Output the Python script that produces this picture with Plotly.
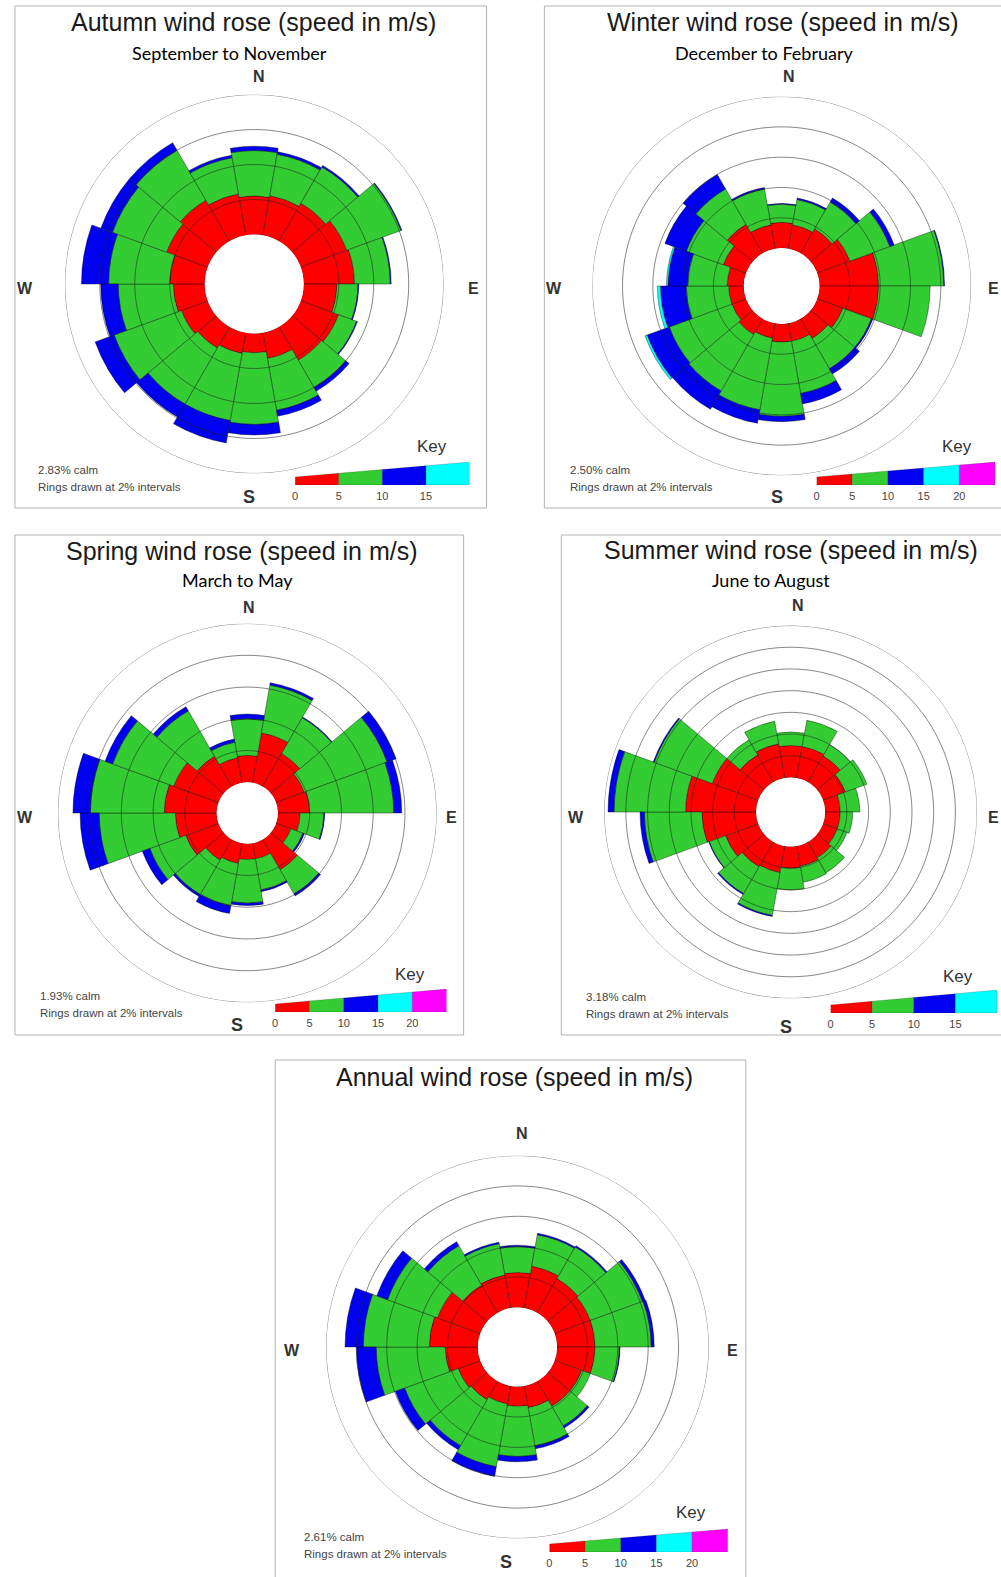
import numpy as np
import plotly.graph_objects as go

W, H = 1001, 1577

# ---------------- data ----------------
directions = [0, 20, 40, 60, 80, 100, 120, 140, 160, 180, 200, 220, 240, 260, 280, 300, 320, 340]
speed_bins = ["0-5", "5-10", "10-15", "15-20", "20+"]
bin_colors = ["#ff0000", "#33cc33", "#0000f0", "#00ffff", "#ff00ff"]
ring_step = 2

# Autumn (September to November), % of time per direction and speed band
autumn_0_5 = [2.2, 2.3, 2.5, 2.8, 2.9, 1.9, 2.3, 2.2, 1.5, 1.1, 1.2, 1.4, 1.6, 1.8, 2.0, 2.5, 2.7, 2.4]
autumn_5_10 = [2.6, 2.4, 2.4, 3.3, 2.05, 1.2, 1.1, 1.8, 3.0, 4.1, 3.9, 3.7, 4.1, 3.15, 3.5, 3.3, 3.3, 2.1]
autumn_10_15 = [0.25, 0.15, 0.1, 0.05, 0.05, 0.05, 0.05, 0.25, 0.35, 0.6, 1.3, 0.85, 1.15, 1.0, 1.55, 0.7, 0.5, 0.15]
autumn_calm = 2.83
autumn_rings = 8
autumn_key_ticks = [0, 5, 10, 15]

# Winter (December to February)
winter_0_5 = [1.7, 1.6, 1.85, 2.3, 3.9, 3.9, 1.8, 1.5, 1.2, 1.2, 1.0, 1.2, 1.0, 1.0, 1.1, 1.6, 2.2, 1.6]
winter_5_10 = [1.2, 1.7, 2.05, 2.8, 4.3, 3.4, 2.0, 2.3, 3.5, 4.9, 4.8, 4.3, 4.4, 2.8, 2.6, 2.6, 2.7, 2.4]
winter_10_15 = [0.05, 0.1, 0.3, 0.3, 0.05, 0.0, 0.1, 0.4, 0.7, 0.35, 0.9, 1.4, 1.55, 1.7, 1.3, 1.5, 1.1, 0.1]
winter_15_20 = [0, 0, 0, 0, 0, 0, 0, 0, 0, 0, 0, 0, 0.15, 0.2, 0.1, 0, 0, 0]
winter_calm = 2.50
winter_rings = 10
winter_key_ticks = [0, 5, 10, 15, 20]

# Spring (March to May)
spring_0_5 = [1.7, 3.2, 2.4, 1.9, 2.0, 1.4, 1.0, 2.2, 1.0, 1.0, 1.3, 1.5, 2.2, 2.6, 3.3, 3.0, 2.2, 1.6]
spring_5_10 = [2.3, 3.05, 2.6, 5.55, 5.3, 1.5, 0.8, 1.75, 2.0, 2.75, 2.7, 2.5, 2.4, 4.8, 4.65, 4.1, 3.3, 1.0]
spring_10_15 = [0.3, 0.15, 0.05, 0.6, 0.5, 0.05, 0.1, 0.15, 0.1, 0.15, 0.5, 0.15, 0.5, 1.2, 1.1, 0.5, 0.3, 0.2]
spring_calm = 1.93
spring_rings = 10
spring_key_ticks = [0, 5, 10, 15, 20]

# Summer (June to August)
summer_0_5 = [2.95, 2.95, 2.8, 2.2, 1.4, 1.4, 1.4, 1.7, 1.9, 2.0, 2.5, 2.65, 3.2, 5.0, 6.5, 4.5, 2.9, 3.2]
summer_5_10 = [1.25, 2.45, 1.2, 2.1, 1.8, 1.15, 0.95, 1.6, 1.5, 2.0, 4.0, 2.85, 1.6, 5.3, 6.6, 5.7, 1.6, 2.1]
summer_10_15 = [0, 0, 0, 0, 0, 0, 0, 0, 0, 0, 0.1, 0.1, 0.05, 0.4, 0.55, 0.1, 0, 0]
summer_calm = 3.18
summer_rings = 14
summer_key_ticks = [0, 5, 10, 15]

# Annual
annual_0_5 = [2.3, 2.8, 2.6, 2.5, 2.5, 2.5, 1.9, 1.9, 1.45, 1.3, 1.2, 1.4, 1.55, 2.15, 3.2, 3.0, 2.1, 2.2]
annual_5_10 = [1.7, 2.1, 2.4, 3.65, 3.7, 1.6, 0.6, 1.5, 2.55, 3.3, 4.2, 3.5, 3.75, 4.55, 4.35, 3.5, 3.0, 2.1]
annual_10_15 = [0.1, 0.1, 0.1, 0.2, 0.2, 0.05, 0.0, 0.15, 0.2, 0.35, 0.65, 0.3, 0.65, 1.3, 1.2, 0.75, 0.3, 0.1]
annual_calm = 2.61
annual_rings = 10
annual_key_ticks = [0, 5, 10, 15, 20]

panels = [
    dict(title="Autumn wind rose (speed in m/s)", sub="September to November",
         series=[autumn_0_5, autumn_5_10, autumn_10_15], calm=autumn_calm,
         rmax=autumn_rings, ticks=autumn_key_ticks),
    dict(title="Winter wind rose (speed in m/s)", sub="December to February",
         series=[winter_0_5, winter_5_10, winter_10_15, winter_15_20], calm=winter_calm,
         rmax=winter_rings, ticks=winter_key_ticks),
    dict(title="Spring wind rose (speed in m/s)", sub="March to May",
         series=[spring_0_5, spring_5_10, spring_10_15], calm=spring_calm,
         rmax=spring_rings, ticks=spring_key_ticks),
    dict(title="Summer wind rose (speed in m/s)", sub="June to August",
         series=[summer_0_5, summer_5_10, summer_10_15], calm=summer_calm,
         rmax=summer_rings, ticks=summer_key_ticks),
    dict(title="Annual wind rose (speed in m/s)", sub=None,
         series=[annual_0_5, annual_5_10, annual_10_15], calm=annual_calm,
         rmax=annual_rings, ticks=annual_key_ticks),
]

# ---------------- layout geometry (pixels) ----------------
geo = [
    dict(c=(252, 284), R=190, box=(12, 6, 485, 508), title=(251, 22), sub=(227, 53),
         N=(257, 77), Wl=(22, 288), E=(472, 288), S=(247, 497), calm=(33, 470),
         key=(293, 468, 485), keyword=(430, 446)),
    dict(c=(781, 286), R=190, box=(543, 6, 1012, 508), title=(782, 22), sub=(763, 53),
         N=(788, 77), Wl=(553, 288), E=(993, 288), S=(776, 497), calm=(567, 470),
         key=(816, 995, 485), keyword=(957, 446)),
    dict(c=(245, 813), R=190, box=(12, 535, 462, 1035), title=(240, 551), sub=(235, 580),
         N=(247, 607), Wl=(22, 817), E=(450, 817), S=(235, 1025), calm=(35, 996),
         key=(273, 445, 1012), keyword=(408, 974)),
    dict(c=(790, 812), R=187, box=(560, 535, 1012, 1035), title=(790, 550), sub=(770, 580),
         N=(797, 605), Wl=(575, 817), E=(993, 817), S=(785, 1027), calm=(583, 997),
         key=(830, 997, 1013), keyword=(958, 976)),
    dict(c=(516, 1347), R=192, box=(273, 1060, 745, 1590), title=(513, 1077), sub=None,
         N=(521, 1133), Wl=(290, 1350), E=(732, 1350), S=(505, 1562), calm=(300, 1537),
         key=(548, 727, 1552), keyword=(690, 1512)),
]


def px(x):
    return x / W


def py(y):
    return 1 - y / H


fig = go.Figure()
annotations = []
shapes = []
layout_extra = {}

ARIAL = "Liberation Sans, Arial, sans-serif"
TITLE_FONT = dict(family=ARIAL, size=25, color="#1a1a1a")
SUB_FONT = dict(family="Lato, Noto Sans, sans-serif", size=18, color="#000000")
CARD_FONT = dict(family=ARIAL, size=16, color="#333333")
SMALL_FONT = dict(family=ARIAL, size=11.5, color="#444444")

theta_circle = np.linspace(0, 360, 361)

for i, (p, g) in enumerate(zip(panels, geo)):
    n = "" if i == 0 else str(i + 1)
    pname = "polar" + n
    cx, cy = g["c"]
    R = g["R"]
    calm = p["calm"]
    rmax = p["rmax"]
    hole = calm / (calm + rmax)

    layout_extra[pname] = dict(
        domain=dict(x=[px(cx - R), px(cx + R)], y=[py(cy + R), py(cy - R)]),
        hole=hole,
        bgcolor="rgba(0,0,0,0)",
        bargap=0,
        barmode="stack",
        radialaxis=dict(range=[0, rmax], visible=False, showgrid=False),
        angularaxis=dict(rotation=90, direction="clockwise", visible=False, showgrid=False),
    )

    for vals, name, col in zip(p["series"], speed_bins, bin_colors):
        fig.add_trace(go.Barpolar(
            r=vals, theta=directions, width=[20] * len(directions), name=name,
            marker=dict(color=col, line=dict(color="rgba(0,0,0,0.55)", width=0.7)),
            subplot=pname, showlegend=False, hoverinfo="skip"))

    for rv in range(ring_step, rmax + 1, ring_step):
        fig.add_trace(go.Scatterpolar(
            r=[rv] * len(theta_circle), theta=theta_circle, mode="lines",
            line=dict(color="rgba(35,35,35,0.55)", width=1),
            subplot=pname, showlegend=False, hoverinfo="skip", cliponaxis=False))

    # key (wedge-shaped colour bar) on a small cartesian axis
    xa = "x" + n
    ya = "y" + n
    kx0, kx1, kyb = g["key"]
    nseg = len(p["ticks"])
    xmax = nseg * 5
    layout_extra["xaxis" + n] = dict(
        domain=[px(kx0), px(kx1)], range=[0, xmax], anchor=ya,
        tickvals=p["ticks"], ticktext=[str(t) for t in p["ticks"]],
        showgrid=False, zeroline=False, showline=False, ticks="",
        tickfont=dict(family=ARIAL, size=11, color="#444444"),
        ticklabelstandoff=3, fixedrange=True)
    layout_extra["yaxis" + n] = dict(
        domain=[py(kyb), py(kyb - 23)], range=[0, 1], anchor=xa,
        visible=False, fixedrange=True)
    hl = 0.35
    for s in range(nseg):
        a, b = p["ticks"][s], p["ticks"][s] + 5
        ta = hl + (1 - hl) * a / xmax
        tb = hl + (1 - hl) * b / xmax
        fig.add_trace(go.Scatter(
            x=[a, b, b, a, a], y=[0, 0, tb, ta, 0], mode="lines", fill="toself",
            fillcolor=bin_colors[s], line=dict(color="rgba(0,0,0,0.35)", width=0.5),
            xaxis=xa, yaxis=ya, showlegend=False, hoverinfo="skip"))

    # panel frame
    bx0, by0, bx1, by1 = g["box"]
    shapes.append(dict(type="rect", xref="paper", yref="paper",
                       x0=px(bx0), x1=px(bx1), y0=py(by1), y1=py(by0),
                       line=dict(color="#b4b4b4", width=1), fillcolor="rgba(0,0,0,0)",
                       layer="below"))

    def ann(text, pos, font, xanchor="center"):
        annotations.append(dict(text=text, x=px(pos[0]), y=py(pos[1]), xref="paper",
                                yref="paper", showarrow=False, font=font,
                                xanchor=xanchor, yanchor="middle"))

    ann(p["title"], g["title"], TITLE_FONT)
    if p["sub"]:
        ann(p["sub"], g["sub"], SUB_FONT)
    ann("<b>N</b>", g["N"], CARD_FONT)
    ann("<b>W</b>", g["Wl"], CARD_FONT)
    ann("<b>E</b>", g["E"], CARD_FONT)
    ann("<b>S</b>", g["S"], dict(family=ARIAL, size=18, color="#333333"))
    ann(f"{calm:.2f}% calm", g["calm"], SMALL_FONT, xanchor="left")
    ann(f"Rings drawn at {ring_step}% intervals", (g["calm"][0], g["calm"][1] + 17), SMALL_FONT,
        xanchor="left")
    ann("Key", g["keyword"], dict(family=ARIAL, size=17, color="#333333"))

fig.update_layout(
    width=W, height=H, margin=dict(l=0, r=0, t=0, b=0),
    paper_bgcolor="white", plot_bgcolor="white",
    showlegend=False, annotations=annotations, shapes=shapes,
    **layout_extra)

fig.write_html("out.html")
